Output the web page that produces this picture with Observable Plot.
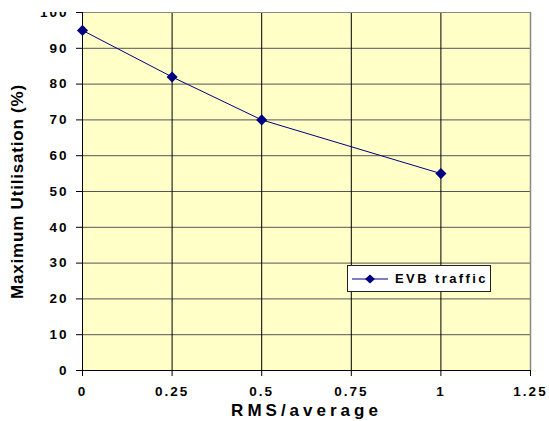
<!DOCTYPE html>
<html>
<head>
<meta charset="utf-8">
<script src="https://cdn.jsdelivr.net/npm/d3@7"></script>
<script src="https://cdn.jsdelivr.net/npm/@observablehq/plot@0.6"></script>
<style>
  html, body { margin: 0; padding: 0; background: white; }
  #wrap { position: relative; width: 549px; height: 421px; padding-top: 12px; box-sizing: border-box; font-family: "Liberation Sans", Arial, sans-serif; }
  #legend { position: absolute; left: 347px; top: 265px; width: 144px; height: 27px; box-sizing: border-box; border: 1px solid #222; background: white; display: flex; align-items: center; }
  #legend span { font-weight: bold; font-size: 13px; letter-spacing: 2.4px; margin-left: 3px; color: #000; }
</style>
</head>
<body>
<div id="wrap">
  <div id="chart"></div>
  <div id="legend">
    <svg width="40" height="12" style="margin-left:4px"><line x1="0" y1="6" x2="36" y2="6" stroke="#000080" stroke-width="1"/><path d="M18,1.5 L23,6 L18,10.5 L13,6 Z" fill="#000080"/></svg>
    <span>EVB traffic</span>
  </div>
</div>
<script>
const rmsAvg = [0, 0.25, 0.5, 1];
const maxUtil = [95, 82, 70, 55];
const xTicks = [0, 0.25, 0.5, 0.75, 1, 1.25];
const yTicks = [0, 10, 20, 30, 40, 50, 60, 70, 80, 90, 100];
const seriesName = "EVB traffic";
const xTitle = "RMS/average";
const yTitle = "Maximum Utilisation (%)";

const data = rmsAvg.map((x, i) => ({x, y: maxUtil[i], series: seriesName}));

const chart = Plot.plot({
  width: 549,
  height: 409,
  marginLeft: 82,
  marginRight: 19,
  marginTop: 0,
  marginBottom: 51,
  style: {fontFamily: "'Liberation Sans', Arial, sans-serif", background: "transparent", overflow: "hidden"},
  x: {domain: [0, 1.25], ticks: xTicks, tickFormat: d => String(d)},
  y: {domain: [0, 100], ticks: yTicks},
  marks: [
    Plot.frame({fill: "#FFFFC8", stroke: null}),
    Plot.gridY(yTicks, {stroke: "#555", strokeOpacity: 1, strokeWidth: 1}),
    Plot.gridX(xTicks, {stroke: "#000", strokeOpacity: 1, strokeWidth: 1}),
    Plot.ruleY([100], {stroke: "#888"}),
    Plot.ruleX([1.25], {stroke: "#888", strokeWidth: 1.5}),
    Plot.ruleY([0], {stroke: "#000"}),
    Plot.ruleX([0], {stroke: "#000"}),
    Plot.axisX(xTicks, {tickSize: 6, tickPadding: 10, fill: "#000", label: null, tickFormat: d => String(d)}),
    Plot.axisY(yTicks, {tickSize: 6, tickPadding: 8, fill: "#000", label: null}),
    Plot.text([xTitle], {frameAnchor: "bottom", lineAnchor: "middle", textAnchor: "middle", dy: 40, fontSize: 17, fontWeight: "bold", fill: "#000"}),
    Plot.text([yTitle], {frameAnchor: "left", textAnchor: "middle", lineAnchor: "middle", dx: -65, rotate: -90, fontSize: 17, fontWeight: "bold", fill: "#000"}),
    Plot.line(data, {x: "x", y: "y", stroke: "#000080", strokeWidth: 1}),
    Plot.dot(data, {x: "x", y: "y", symbol: "diamond2", r: 5, fill: "#000080", stroke: "none"})
  ]
});
d3.select(chart).selectAll("text").each(function() {
  const t = this.textContent;
  if (t === xTitle) {
    d3.select(this).style("letter-spacing", "4px");
  } else if (t === yTitle) {
    d3.select(this).style("letter-spacing", "0.8px");
  } else {
    d3.select(this).style("font-size", "13.5px").style("font-weight", "bold").style("letter-spacing", "2px").style("fill", "#000");
  }
});
document.getElementById("chart").appendChild(chart);
</script>
</body>
</html>
